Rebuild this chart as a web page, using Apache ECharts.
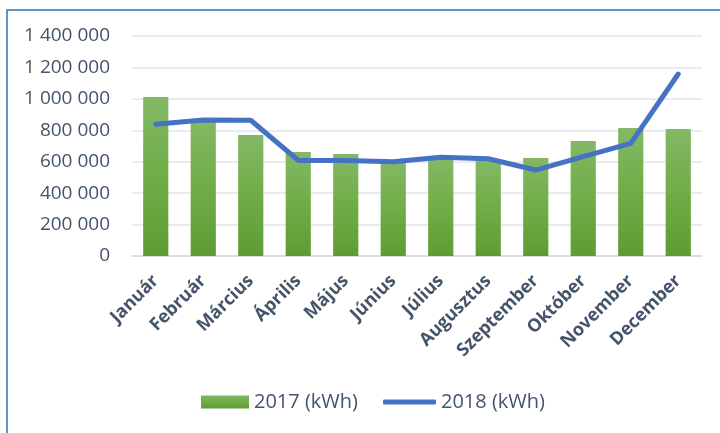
<!DOCTYPE html>
<html>
<head>
<meta charset="utf-8">
<script src="https://cdn.jsdelivr.net/npm/echarts@6/dist/echarts.min.js"></script>
<style>
html, body { margin: 0; padding: 0; background: #fff; }
#container { width: 720px; height: 433px; }
</style>
</head>
<body>
<div id="container"></div>
<script>
var months = ['Január', 'Február', 'Március', 'Április', 'Május', 'Június', 'Július', 'Augusztus', 'Szeptember', 'Október', 'November', 'December'];
var values2017 = [1012000, 860000, 770000, 662000, 649000, 598000, 612000, 606000, 624000, 732000, 815000, 808000];
var values2018 = [838000, 866000, 864000, 608000, 608000, 600000, 628000, 619000, 547000, 632000, 717000, 1158000];
var seriesNames = ['2017 (kWh)', '2018 (kWh)'];

var myChart = echarts.init(document.getElementById('container'));
var legendText = { fontSize: 20, color: '#44546A', fontFamily: 'Open Sans' };
var option = {
	animation: false,
	textStyle: { fontFamily: 'Open Sans' },
	grid: { left: 132, right: 18, top: 36, bottom: 177 },
	legend: [
		{
			left: 196,
			top: 387,
			itemWidth: 48,
			itemHeight: 13,
			textStyle: legendText,
			data: [{ name: seriesNames[0], icon: 'rect' }]
		},
		{
			left: 378,
			top: 387,
			itemWidth: 53,
			itemHeight: 5,
			textStyle: legendText,
			data: [{ name: seriesNames[1], icon: 'roundRect' }]
		}
	],
	xAxis: {
		type: 'category',
		data: months,
		axisLine: { lineStyle: { color: '#D9D9D9', width: 1.5 } },
		axisTick: { show: false },
		axisLabel: {
			rotate: 45,
			interval: 0,
			fontSize: 18,
			fontWeight: 'bold',
			color: '#44546A',
			margin: 22
		}
	},
	yAxis: {
		type: 'value',
		min: 0,
		max: 1400000,
		interval: 200000,
		axisLine: { show: false },
		axisTick: { show: false },
		splitLine: { lineStyle: { color: '#E1E4EA', width: 1.5 } },
		axisLabel: {
			fontSize: 19,
			color: '#44546A',
			margin: 22,
			formatter: function (v) {
				return String(v).replace(/\B(?=(\d{3})+(?!\d))/g, ' ');
			}
		}
	},
	series: [
		{
			name: seriesNames[0],
			type: 'bar',
			data: values2017,
			barWidth: '53%',
			itemStyle: {
				color: new echarts.graphic.LinearGradient(0, 0, 0, 1, [
					{ offset: 0, color: '#83B865' },
					{ offset: 0.5, color: '#70AD47' },
					{ offset: 1, color: '#5E9C33' }
				])
			}
		},
		{
			name: seriesNames[1],
			type: 'line',
			data: values2018,
			symbol: 'none',
			lineStyle: { color: '#4472C4', width: 5, cap: 'round', join: 'round' },
			itemStyle: { color: '#4472C4' }
		}
	],
	graphic: [
		{
			type: 'rect',
			shape: { x: 7, y: 10, width: 730, height: 440 },
			style: { fill: null, stroke: '#2E75B6', lineWidth: 1.5 },
			silent: true
		}
	]
};
myChart.setOption(option, true);
</script>
</body>
</html>
